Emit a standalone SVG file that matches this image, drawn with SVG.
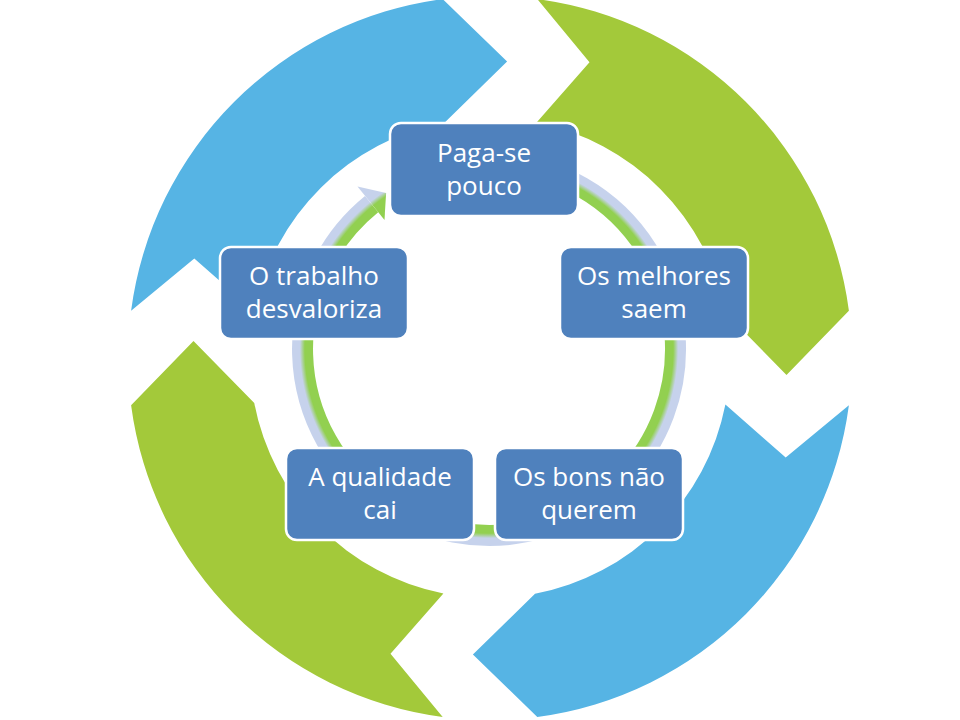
<svg xmlns="http://www.w3.org/2000/svg" width="960" height="720" viewBox="0 0 960 720">
<defs>
<style>
.box{fill:#4f81bd;stroke:#ffffff;stroke-width:2.5}
.lbl{font-family:"Open Sans","Liberation Sans",sans-serif;font-size:26px;fill:#ffffff;text-anchor:middle}
</style>
<path id="arrow" d="M131.1,310.7 A362,362 0 0 1 442.7,-0.9 L507.1,61.5 L445,122.25 A240,240 0 0 0 254.6,311.4 L194.3,258.5 Z"/>
<radialGradient id="ringGrad" gradientUnits="userSpaceOnUse" cx="489" cy="349" r="197">
<stop offset="0.89" stop-color="#92d050"/>
<stop offset="0.935" stop-color="#92d050"/>
<stop offset="0.96" stop-color="#c6d2ec"/>
<stop offset="1" stop-color="#c6d2ec"/>
</radialGradient>
</defs>
<rect width="960" height="720" fill="#ffffff"/>
<g id="cycle-arrows">
<use href="#arrow" fill="#56b4e4"/>
<use href="#arrow" fill="#a3c93a" transform="rotate(90 490 358)"/>
<use href="#arrow" fill="#56b4e4" transform="rotate(180 490 358)"/>
<use href="#arrow" fill="#a3c93a" transform="rotate(270 490 358)"/>
</g>
<g id="connectors">
<path d="M505.3,163.2 A186.5,186.5 0 1 1 371.6,204.1" fill="none" stroke="url(#ringGrad)" stroke-width="21"/>
<path d="M357.5,186.6 L386.1,192.9 L384.5,220 Z" fill="url(#ringGrad)"/>
</g>
<g id="node-paga">
<rect class="box" x="390" y="123" width="188" height="93" rx="11"/>
<text class="lbl" x="484" y="161.5">Paga-se</text>
<text class="lbl" x="484" y="194.5">pouco</text>
</g>
<g id="node-melhores">
<rect class="box" x="560" y="247" width="188" height="92" rx="11"/>
<text class="lbl" x="654" y="285">Os melhores</text>
<text class="lbl" x="654" y="318">saem</text>
</g>
<g id="node-bons">
<rect class="box" x="495" y="448" width="188" height="92" rx="11"/>
<text class="lbl" x="589" y="486">Os bons não</text>
<text class="lbl" x="589" y="519">querem</text>
</g>
<g id="node-qualidade">
<rect class="box" x="286" y="448" width="188" height="92" rx="11"/>
<text class="lbl" x="380" y="486">A qualidade</text>
<text class="lbl" x="380" y="519">cai</text>
</g>
<g id="node-trabalho">
<rect class="box" x="220" y="247" width="188" height="92" rx="11"/>
<text class="lbl" x="314" y="285">O trabalho</text>
<text class="lbl" x="314" y="318">desvaloriza</text>
</g>
</svg>
